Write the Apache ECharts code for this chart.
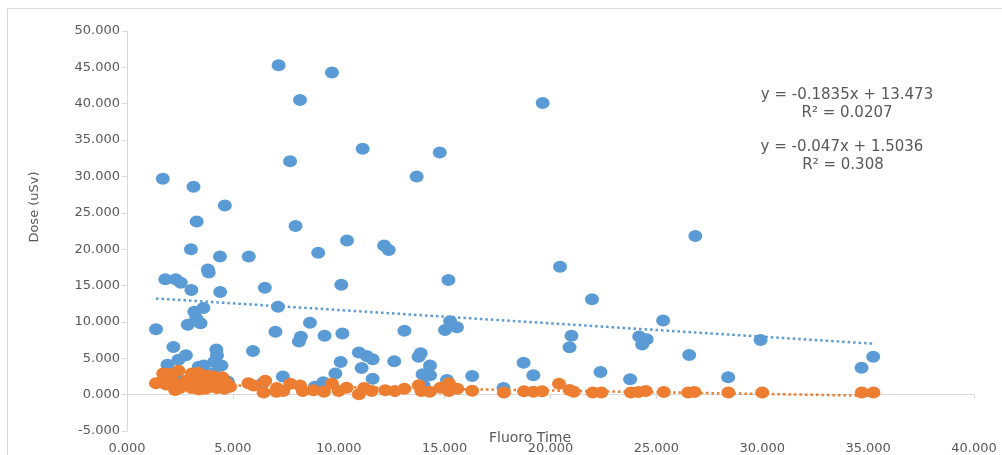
<!DOCTYPE html>
<html>
<head>
<meta charset="utf-8">
<script src="https://cdn.jsdelivr.net/npm/echarts@6/dist/echarts.min.js"></script>
<style>
  html, body { margin: 0; padding: 0; background: #fff; }
  #chart { width: 1002px; height: 455px; }
</style>
</head>
<body>
<div id="chart"></div>
<script>
// 蓝色系列（Dose 1）
var blueX = [7.16, 9.68, 8.17, 7.70, 11.13, 14.77, 13.68, 1.69, 3.14, 4.62, 3.29, 7.96, 19.63,
  3.02, 4.39, 5.75, 3.82, 3.86, 1.81, 2.30, 2.54, 3.04, 4.40, 6.51, 10.39, 12.14, 12.36, 9.03,
  10.12, 15.18, 7.13, 3.18, 3.61, 3.27, 2.87, 3.47, 1.37, 8.64, 7.01, 8.21, 8.12, 9.33, 10.17,
  13.10, 15.02, 15.26, 15.58, 2.19, 2.78, 2.43, 1.91, 3.39, 3.63, 4.22, 4.25, 4.11, 4.46, 4.08,
  5.95, 7.36, 10.95, 11.32, 11.60, 10.09, 11.08, 9.84, 11.60, 12.62, 13.77, 13.87, 14.31, 13.96,
  14.31, 14.00, 15.11, 16.30, 4.76, 2.35, 8.87, 9.27, 6.43, 26.84, 20.45, 21.96, 25.32, 20.99,
  20.90, 24.19, 24.54, 24.33, 29.92, 26.55, 22.36, 23.76, 28.39, 34.69, 35.24, 18.73, 19.19, 17.78];
var blueY = [45.3, 44.3, 40.5, 32.1, 33.8, 33.3, 30.0, 29.7, 28.6, 26.0, 23.8, 23.2, 40.1,
  20.0, 19.0, 19.0, 17.2, 16.8, 15.85, 15.85, 15.4, 14.4, 14.1, 14.7, 21.2, 20.5, 19.9, 19.5,
  15.1, 15.75, 12.1, 11.4, 11.9, 10.5, 9.6, 9.8, 9.0, 9.9, 8.65, 7.97, 7.3, 8.1, 8.4,
  8.8, 8.9, 10.1, 9.25, 6.55, 5.4, 4.8, 4.1, 3.85, 4.0, 6.2, 5.4, 4.5, 4.0, 2.9,
  6.0, 2.5, 5.8, 5.3, 4.85, 4.5, 3.65, 2.9, 2.2, 4.6, 5.2, 5.7, 4.0, 2.8,
  2.65, 1.3, 2.0, 2.55, 1.8, 2.4, 1.1, 1.7, 1.65, 21.8, 17.6, 13.1, 10.2, 8.1,
  6.5, 8.0, 7.6, 6.9, 7.5, 5.45, 3.1, 2.1, 2.4, 3.7, 5.2, 4.4, 2.65, 0.9];

// 橙色系列（Dose 2）
var orangeX = [1.37, 1.71, 1.95, 2.43, 2.19, 2.27, 2.63, 3.06, 2.90, 3.30, 3.53, 3.60, 4.08, 4.30,
  4.24, 4.45, 4.87, 3.90, 3.40, 1.60, 2.00, 2.50, 2.80, 3.20, 3.80, 4.00, 3.70, 4.60, 4.70, 2.10,
  3.35, 4.50, 1.85, 3.05, 5.74, 5.98, 6.53, 6.45, 7.08, 7.38, 7.05, 7.71, 8.17, 8.30, 8.80, 9.30,
  9.68, 10.00, 10.37, 10.95, 11.20, 11.55, 12.20, 12.65, 13.10, 13.78, 13.90, 14.30, 14.80, 15.20,
  15.20, 15.60, 16.30, 17.80, 18.75, 19.20, 19.60, 20.40, 20.90, 21.10, 22.00, 22.40, 23.80, 24.15,
  24.50, 25.35, 26.50, 26.80, 28.40, 30.00, 34.70, 35.25];
var orangeY = [1.55, 2.9, 2.85, 3.3, 1.65, 0.65, 1.25, 2.9, 1.6, 1.1, 2.7, 1.5, 2.5, 2.1,
  0.9, 1.35, 1.1, 1.1, 0.7, 1.7, 1.9, 0.9, 1.9, 2.0, 2.6, 1.8, 0.8, 0.8, 1.6, 2.6,
  3.0, 2.4, 1.4, 0.9, 1.55, 1.25, 1.9, 0.3, 0.9, 0.5, 0.4, 1.5, 1.25, 0.5, 0.6, 0.4,
  1.5, 0.5, 0.95, 0.05, 0.9, 0.5, 0.6, 0.5, 0.8, 1.3, 0.5, 0.4, 0.95, 1.55,
  0.5, 0.8, 0.55, 0.3, 0.45, 0.4, 0.45, 1.5, 0.65, 0.4, 0.3, 0.3, 0.3, 0.35,
  0.5, 0.35, 0.3, 0.35, 0.3, 0.3, 0.3, 0.3];

// 趋势线系数（图上公式）
var blueFit = [-0.1835, 13.473];
var orangeFit = [-0.047, 1.5036];
var fitLabels = ['y = -0.1835x + 13.473', 'R² = 0.0207', 'y = -0.047x + 1.5036', 'R² = 0.308'];

// 轴刻度
var xTicks = [0, 40, 5];
var yTicks = [-5, 50, 5];

var BLUE = '#5B9BD5', ORANGE = '#ED7D31', TXT = '#595959', AX = '#D9D9D9';
var FONT = 'DejaVu Sans';

function pairs(xs, ys) {
  var out = [];
  for (var i = 0; i < xs.length; i++) out.push([xs[i], ys[i]]);
  return out;
}
// 趋势线：数据 x 范围内按公式取两端
function trend(xs, fit) {
  var lo = Math.min.apply(null, xs), hi = Math.max.apply(null, xs);
  return [[lo, fit[0] * lo + fit[1]], [hi, fit[0] * hi + fit[1]]];
}
function label(x, y, text, size) {
  return { type: 'text', x: x, y: y,
    style: { text: text, fill: TXT, font: size + 'px ' + FONT, align: 'center', verticalAlign: 'middle' } };
}

var myChart = echarts.init(document.getElementById('chart'));
myChart.setOption({
  backgroundColor: '#fff',
  animation: false,
  grid: { left: 127, right: 28, top: 31, bottom: 24 },
  xAxis: {
    type: 'value', min: xTicks[0], max: xTicks[1], interval: xTicks[2],
    splitLine: { show: false },
    axisLine: { show: true, onZero: true, lineStyle: { color: AX } },
    axisTick: { show: true, length: 4, lineStyle: { color: AX } },
    axisLabel: { color: TXT, fontFamily: FONT, fontSize: 13, margin: 11,
      formatter: function (v) { return v.toFixed(3); } }
  },
  yAxis: {
    type: 'value', min: yTicks[0], max: yTicks[1], interval: yTicks[2],
    splitLine: { show: false },
    axisLine: { show: true, lineStyle: { color: AX } },
    axisTick: { show: true, length: 5, lineStyle: { color: AX } },
    axisLabel: { color: TXT, fontFamily: FONT, fontSize: 13, margin: 7,
      formatter: function (v) { return v.toFixed(3); } }
  },
  graphic: [
    { type: 'rect', shape: { x: 7.5, y: 8.5, width: 1010, height: 460 },
      style: { fill: null, stroke: AX, lineWidth: 1 }, silent: true, z: -10 },
    { type: 'text', x: 35, y: 207, rotation: Math.PI / 2,
      style: { text: 'Dose (uSv)', fill: TXT, font: '13px ' + FONT, align: 'center', verticalAlign: 'middle' } },
    label(530, 438, 'Fluoro Time', 14),
    label(847, 95, fitLabels[0], 15),
    label(847, 113, fitLabels[1], 15),
    label(842, 147, fitLabels[2], 15),
    label(843, 165, fitLabels[3], 15)
  ],
  series: [
    { name: 'Dose 1', type: 'scatter', data: pairs(blueX, blueY),
      symbol: 'circle', symbolSize: [14, 12],
      itemStyle: { color: BLUE, opacity: 1, borderWidth: 0 } },
    { name: 'Dose 2', type: 'scatter', data: pairs(orangeX, orangeY),
      symbol: 'circle', symbolSize: [14, 12],
      itemStyle: { color: ORANGE, opacity: 1, borderWidth: 0 } },
    { name: 'Trend 1', type: 'line', data: trend(blueX, blueFit), symbol: 'none', z: 5,
      lineStyle: { color: BLUE, width: 2.5, type: [2.5, 3] } },
    { name: 'Trend 2', type: 'line', data: trend(orangeX, orangeFit), symbol: 'none', z: 5,
      lineStyle: { color: ORANGE, width: 2.5, type: [2.5, 3] } }
  ]
});

window.addEventListener('resize', function () { myChart.resize(); });
</script>
</body>
</html>
